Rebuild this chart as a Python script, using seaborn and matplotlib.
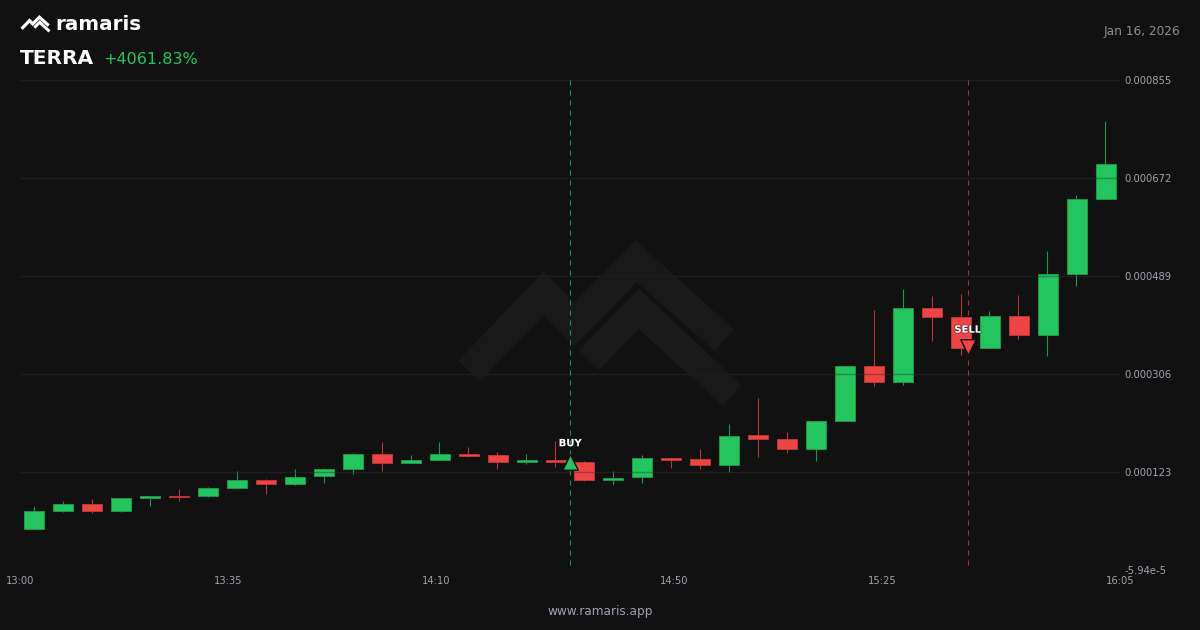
"""TERRA 5m candles with buy/sell markers, dark ramaris card."""

import matplotlib.patheffects as pe
import matplotlib.pyplot as plt
import pandas as pd
import seaborn as sns
from matplotlib.patches import Polygon
from matplotlib.transforms import Affine2D

BG = "#111111"
GREEN = "#22c55e"
RED = "#ef4444"
GREEN_EDGE = "#1f9e50"
RED_EDGE = "#c23a3a"
GRID = "#1e1e1e"
MUTED = "#9ca3af"
DATE = "#8a8f99"

# prices are in units of 1e-6
OPEN = [17.1, 51.3, 64.3, 50.2, 74.4, 78.2, 78.2, 93.6, 109.1, 100.5,
        115.5, 129.7, 157.1, 140.3, 145.9, 157.1, 154.7, 142.7, 145.9, 142.7,
        108.6, 113.6, 149.1, 148.3, 137.1, 192.0, 184.5, 167.0, 218.1, 321.9,
        292.0, 429.0, 412.2, 354.9, 414.0, 378.6, 492.4, 633.5]
CLOSE = [51.3, 64.3, 50.2, 74.4, 78.2, 76.3, 93.1, 109.1, 100.5, 114.7,
         128.5, 157.7, 140.9, 145.9, 157.1, 153.9, 142.7, 145.9, 142.7, 108.6,
         112.9, 149.1, 146.4, 137.1, 191.2, 184.5, 166.4, 218.1, 321.9, 292.0,
         429.0, 413.3, 354.9, 414.0, 378.6, 492.4, 633.5, 698.3]
HIGH = [60.1, 69.4, 73.7, 75.0, 78.2, 91.8, 94.9, 125.4, 109.9, 129.1,
        131.0, 158.4, 180.0, 154.7, 179.5, 169.6, 160.3, 157.1, 181.3, 144.0,
        125.4, 155.8, 149.1, 165.9, 212.5, 261.6, 198.7, 219.2, 321.9, 425.3,
        464.4, 451.9, 455.1, 423.9, 453.8, 536.5, 641.0, 778.5]
LOW = [17.1, 49.4, 47.6, 49.4, 60.1, 69.4, 76.8, 93.1, 83.0, 99.8,
       103.5, 120.3, 124.8, 140.3, 145.3, 150.9, 129.7, 139.0, 132.3, 106.7,
       99.2, 103.5, 131.0, 129.7, 123.5, 152.1, 159.0, 144.0, 218.1, 284.5,
       285.9, 368.0, 342.4, 354.3, 371.1, 340.0, 471.2, 633.5]

Y_TICKS = [855, 672, 489, 306, 123, -59.4]
Y_LABELS = ["0.000855", "0.000672", "0.000489", "0.000306", "0.000123", "-5.94e-5"]
X_TICK_STEPS = [0, 7, 14, 22, 29, 37]
X_LABELS = ["13:00", "13:35", "14:10", "14:50", "15:25", "16:05"]

BUY_X, BUY_PRICE = 18.5, 142.2
SELL_X, SELL_PRICE = 32.24, 356.8

# logo outline, pixels of the watermark
LOGO_TOP = [(458.3, 360.7), (543.3, 271.7), (574.3, 302.3), (636, 240.7), (734, 329.3),
            (715, 351), (636.7, 282.3), (574.3, 346), (543.3, 315.7), (480, 381.3)]
LOGO_BOTTOM = [(579, 350), (639, 289), (741.3, 385), (722.7, 405.7), (639, 329.3), (599, 370)]

sns.set_theme(style="dark")
plt.rcParams["font.family"] = ["DejaVu Sans"]

df = pd.DataFrame({"open": OPEN, "close": CLOSE, "high": HIGH, "low": LOW})
df["step"] = df.index
df["body"] = (df["close"] - df["open"]).abs()
df["base"] = df[["open", "close"]].min(axis=1)
df["up"] = df["close"] >= df["open"]

fig = plt.figure(figsize=(12, 6.3), dpi=100, facecolor=BG)
ax = fig.add_axes([20 / 1200, 60 / 630, 1100 / 1200, 490 / 630], facecolor=BG)
px = Affine2D().scale(1 / 1200, -1 / 630).translate(0, 1) + fig.transFigure

# watermark
for outline in (LOGO_TOP, LOGO_BOTTOM):
    ax.add_patch(Polygon(outline, closed=True, transform=px, facecolor="#191919",
                         edgecolor="none", zorder=0.5))

# small logo in the header
for outline in (LOGO_TOP, LOGO_BOTTOM):
    small = [(20.5 + (x - 458.3) * 0.106, 15 + (y - 240.7) * 0.106) for x, y in outline]
    fig.add_artist(Polygon(small, closed=True, transform=px, facecolor="white", edgecolor="none"))

# wicks, then bodies
for up, color, edge in ((True, GREEN, GREEN_EDGE), (False, RED, RED_EDGE)):
    part = df[df["up"] == up]
    ax.vlines(part["step"] - 0.01, part["low"], part["high"], color=color, lw=0.8, alpha=0.75, zorder=1.5)
    sns.barplot(data=part, x="step", y="body", bottom=part["base"].to_numpy(), native_scale=True,
                color=color, saturation=1, width=0.69, edgecolor=edge, linewidth=0.6,
                zorder=2, ax=ax)

ax.set_xlim(-0.5, 37.5)
ax.set_ylim(-59.4, 855)

for tick in Y_TICKS:
    ax.axhline(tick, color=GRID, lw=1, zorder=1)
    ax.axhline(tick, color=GRID, lw=1, alpha=0.35, zorder=3)

# dashes start at the top of the plot
for x, color in ((BUY_X, GREEN), (SELL_X, RED)):
    ax.plot([x, x], [855, -59.4], color=color, lw=0.8, alpha=0.7, dashes=(4.5, 4.5), zorder=3)

halo = [pe.withStroke(linewidth=1, foreground=BG, alpha=0.6)]
ax.scatter([BUY_X], [BUY_PRICE], marker="^", s=125, color=GREEN, edgecolor=BG, linewidth=1, zorder=5)
ax.scatter([SELL_X], [SELL_PRICE], marker="v", s=125, color=RED, edgecolor=BG, linewidth=1, zorder=5)
ax.annotate("BUY", (BUY_X, BUY_PRICE), xytext=(0, 13.5), textcoords="offset points", ha="center",
            va="center", color="white", fontsize=7.2, fontweight="bold", path_effects=halo, zorder=6)
ax.annotate("SELL", (SELL_X, SELL_PRICE), xytext=(0, 12.5), textcoords="offset points", ha="center",
            va="center", color="white", fontsize=7.2, fontweight="bold", path_effects=halo, zorder=6)

# time labels sit on a point scale across the full width
ax.set_xticks([-0.5 + s * 38 / 37 for s in X_TICK_STEPS], X_LABELS)
ax.yaxis.tick_right()
ax.set_yticks(Y_TICKS, Y_LABELS)
ax.tick_params(axis="both", length=0, labelsize=7.2, labelcolor=MUTED)
ax.tick_params(axis="x", pad=4.5)
ax.tick_params(axis="y", pad=3.2)
ax.set_xlabel("")
ax.set_ylabel("")
ax.grid(False)
sns.despine(ax=ax, left=True, bottom=True)

fig.text(55.5, 24, "ramaris", transform=px, color="white", fontsize=14.4, fontweight="bold", va="center")
fig.text(20, 59, "TERRA", transform=px, color="white", fontsize=14.5, fontweight="bold", va="center")
fig.text(103.5, 60, "+4061.83%", transform=px, color=GREEN, fontsize=11.5, va="center")
fig.text(1180, 31, "Jan 16, 2026", transform=px, color=DATE, fontsize=8.7, ha="right", va="center")
fig.text(600, 611, "www.ramaris.app", transform=px, color=MUTED, fontsize=8.7, ha="center", va="center")

fig.savefig("out.png", dpi=100, facecolor=BG)
